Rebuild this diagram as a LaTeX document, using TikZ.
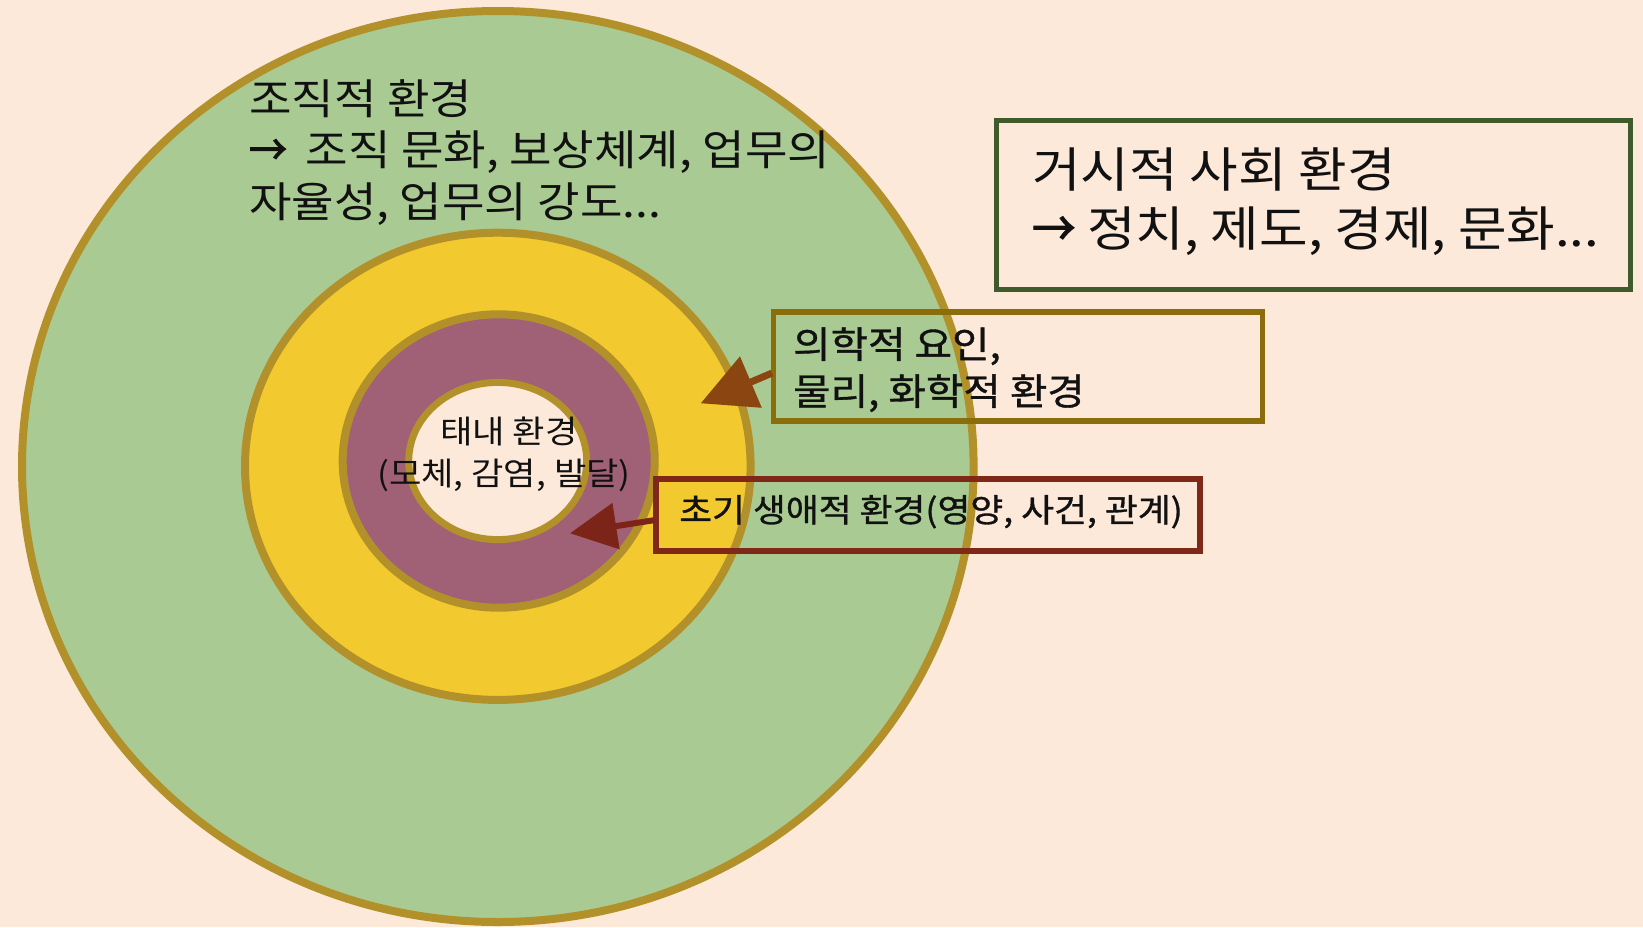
\documentclass[tikz,border=0pt]{standalone}
\usepackage{fontspec}
\setmainfont{Noto Sans CJK KR}[FakeStretch=1.1]
\newfontfamily\semib{Noto Sans CJK KR}[FakeBold=1,FakeStretch=1.1]
\newfontfamily\arrf{Noto Sans CJK KR}[FakeBold=2.5,FakeStretch=0.9]
\usetikzlibrary{arrows.meta,shapes.geometric,calc}
\definecolor{bgc}{HTML}{FCE9DA}
\definecolor{greenc}{HTML}{A9CB93}
\definecolor{yellowc}{HTML}{F2C92F}
\definecolor{purplec}{HTML}{A06075}
\definecolor{ringc}{HTML}{B3912A}
\definecolor{macroc}{HTML}{3F5A2B}
\definecolor{medc}{HTML}{8C6D0C}
\definecolor{earlyc}{HTML}{7F2818}
\definecolor{medarr}{HTML}{8B4511}
\definecolor{earlyarr}{HTML}{7D2418}
\definecolor{txt}{HTML}{111111}
\newcommand\arw{{\arrf →}}
\begin{document}
\begin{tikzpicture}[x=1pt,y=-1pt,
  ring/.style={ellipse, draw=ringc, line width=8pt, inner sep=0pt},
  boxframe/.style={rectangle, line width=4.5pt, inner sep=0pt},
  lbl/.style={anchor=base west, inner sep=0pt, text=txt},
  clbl/.style={anchor=base, inner sep=0pt, text=txt},
]
\useasboundingbox[fill=bgc] (0,0) rectangle (1643,927);
% rings
\node[ring, fill=greenc, minimum width=951.6pt, minimum height=911pt] (org) at (497.8,466.5) {};
\node[ring, fill=yellowc, minimum width=505.6pt, minimum height=467.2pt] (med) at (497.8,466.3) {};
\node[ring, fill=purplec, minimum width=312pt, minimum height=293.4pt] (early) at (498.7,461) {};
\node[ring, fill=bgc, line width=7pt, minimum width=178pt, minimum height=157.2pt] (fetal) at (497.7,461) {};
% organisational text
\node[lbl, font=\fontsize{42}{50}\selectfont] (t1) at (249,114) {조직적 환경};
\node[lbl, font=\fontsize{42}{50}\selectfont] (t2) at (249,165) {\arw\hspace{0.45em}조직 문화, 보상체계, 업무의};
\node[lbl, font=\fontsize{42}{50}\selectfont] (t3) at (249,217) {자율성, 업무의 강도...};
% fetal text
\node[clbl, font=\fontsize{32}{38}\selectfont] (f1) at (509,443) {태내 환경};
\node[clbl, font=\fontsize{32}{38}\selectfont] (f2) at (504,485) {(모체, 감염, 발달)};
% macro box
\node[boxframe, draw=macroc, minimum width=634pt, minimum height=168.7pt] (macro) at (1313.5,204.9) {};
\node[lbl, font=\fontsize{48}{56}\selectfont] (m1) at (1032,187) {거시적 사회 환경};
\node[lbl, font=\fontsize{48}{56}\selectfont] (m2) at (1032,246) {\arw\ 정치, 제도, 경제, 문화...};
% medical box
\node[boxframe, draw=medc, line width=5.5pt, minimum width=489pt, minimum height=109pt] (medbox) at (1018.2,366.6) {};
\node[lbl, font=\semib\fontsize{37}{44}\selectfont] (d1) at (793,358) {의학적 요인,};
\node[lbl, font=\semib\fontsize{37}{44}\selectfont] (d2) at (793,405) {물리, 화학적 환경};
% early-life box
\node[boxframe, draw=earlyc, line width=5.5pt, minimum width=544pt, minimum height=72pt] (earlybox) at (928,515) {};
\node[lbl, font=\semib\fontsize{32.5}{38}\selectfont] (e1) at (679,522) {초기 생애적 환경(영양, 사건, 관계)};
% arrows
\coordinate (medtip) at (700.7,403.3);
\coordinate (earlytip) at (570,533.3);
\draw[medarr, line width=7pt, -{Triangle[length=54.5pt,width=54pt]}] ($(medbox.west)+(1,6.5)$) -- (medtip);
\draw[earlyarr, line width=6pt, -{Triangle[length=46.6pt,width=45.4pt]}] ($(earlybox.west)+(2,5)$) -- (earlytip);
\end{tikzpicture}
\end{document}
